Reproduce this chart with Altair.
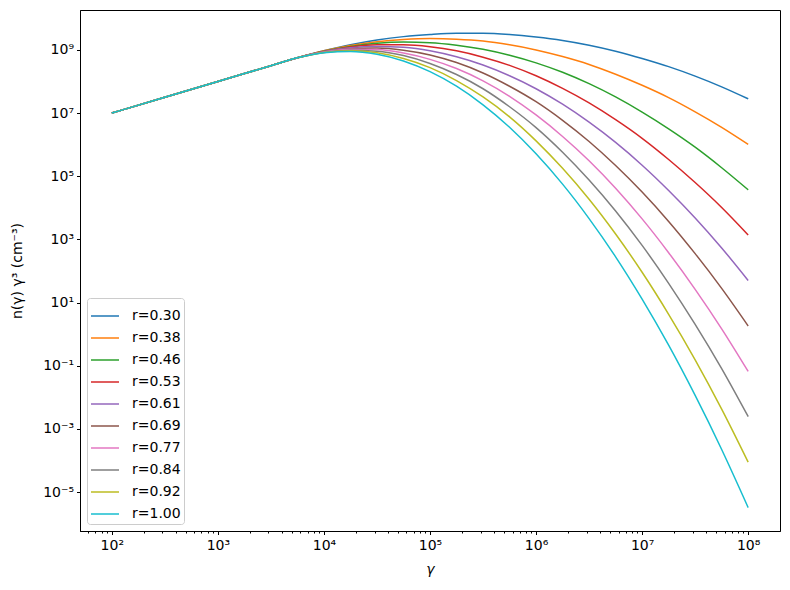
import altair as alt
import pandas as pd

# log10(gamma) sample positions
gamma_exp = [2.0, 2.5, 3.0, 3.5, 3.75, 4.0, 4.25, 4.5, 4.75, 5.0, 5.25, 5.5,
             5.75, 6.0, 6.25, 6.5, 6.75, 7.0, 7.25, 7.5, 7.75, 8.0]

# log10( n(gamma) * gamma^3 ), one list per curve
r030 = [7.0, 7.5, 8.0, 8.5, 8.75, 8.97, 9.16, 9.31, 9.42, 9.49, 9.53, 9.53, 9.49, 9.41, 9.30, 9.15, 8.96, 8.73, 8.47, 8.17, 7.83, 7.45]
r038 = [7.0, 7.5, 8.0, 8.5, 8.75, 8.97, 9.14, 9.26, 9.33, 9.36, 9.34, 9.28, 9.16, 9.00, 8.79, 8.54, 8.23, 7.88, 7.49, 7.04, 6.55, 6.01]
r046 = [7.0, 7.5, 8.0, 8.5, 8.75, 8.96, 9.11, 9.21, 9.25, 9.23, 9.15, 9.02, 8.83, 8.59, 8.29, 7.93, 7.51, 7.03, 6.50, 5.92, 5.27, 4.57]
r053 = [7.0, 7.5, 8.0, 8.5, 8.75, 8.95, 9.09, 9.16, 9.16, 9.10, 8.97, 8.77, 8.51, 8.18, 7.78, 7.32, 6.79, 6.20, 5.53, 4.80, 4.01, 3.14]
r061 = [7.0, 7.5, 8.0, 8.5, 8.75, 8.95, 9.07, 9.11, 9.08, 8.97, 8.78, 8.52, 8.18, 7.77, 7.28, 6.71, 6.07, 5.35, 4.55, 3.68, 2.73, 1.70]
r069 = [7.0, 7.5, 8.0, 8.5, 8.75, 8.94, 9.04, 9.06, 8.99, 8.84, 8.60, 8.27, 7.85, 7.36, 6.77, 6.10, 5.34, 4.50, 3.57, 2.55, 1.45, 0.26]
r077 = [7.0, 7.5, 8.0, 8.5, 8.75, 8.93, 9.02, 9.01, 8.90, 8.70, 8.41, 8.02, 7.53, 6.94, 6.26, 5.49, 4.62, 3.65, 2.58, 1.42, 0.17, -1.18]
r084 = [7.0, 7.5, 8.0, 8.5, 8.75, 8.92, 8.99, 8.96, 8.82, 8.57, 8.22, 7.77, 7.20, 6.54, 5.76, 4.88, 3.90, 2.81, 1.61, 0.31, -1.09, -2.61]
r092 = [7.0, 7.5, 8.0, 8.5, 8.75, 8.92, 8.97, 8.91, 8.73, 8.44, 8.03, 7.51, 6.88, 6.12, 5.25, 4.27, 3.17, 1.96, 0.63, -0.81, -2.37, -4.05]
r100 = [7.0, 7.5, 8.0, 8.5, 8.75, 8.91, 8.95, 8.86, 8.65, 8.31, 7.85, 7.26, 6.55, 5.71, 4.75, 3.66, 2.45, 1.11, -0.35, -1.94, -3.65, -5.49]

labels = ["r=0.30", "r=0.38", "r=0.46", "r=0.53", "r=0.61",
          "r=0.69", "r=0.77", "r=0.84", "r=0.92", "r=1.00"]
colors = ["#1f77b4", "#ff7f0e", "#2ca02c", "#d62728", "#9467bd",
          "#8c564b", "#e377c2", "#7f7f7f", "#bcbd22", "#17becf"]
series = [r030, r038, r046, r053, r061, r069, r077, r084, r092, r100]

x_major = [1e2, 1e3, 1e4, 1e5, 1e6, 1e7, 1e8]
y_major = [1e-5, 1e-3, 1e-1, 1e1, 1e3, 1e5, 1e7, 1e9]
x_minor = [m * 10.0 ** k for k in range(1, 9) for m in range(2, 10)
           if 10 ** 1.7 < m * 10.0 ** k < 10 ** 8.3]

rows = []
for lab, vals in zip(labels, series):
    for e, v in zip(gamma_exp, vals):
        rows.append({"gamma": 10.0 ** e, "n": 10.0 ** v, "r": lab})
df = pd.DataFrame(rows)

sup = "['⁰','¹','²','³','⁴','⁵','⁶','⁷','⁸','⁹']"
ex = "round(log(datum.value)/LN10)"
label_expr = f"'10' + ({ex} < 0 ? '⁻' : '') + {sup}[abs({ex})]"

FONT = "DejaVu Sans"
xscale = alt.Scale(type="log", domain=[10 ** 1.7, 10 ** 8.3], nice=False)
yscale = alt.Scale(type="log", domain=[10 ** -6.231, 10 ** 10.263], nice=False)

lines = alt.Chart(df).mark_line(strokeWidth=1.5, interpolate="monotone").encode(
    x=alt.X("gamma:Q", scale=xscale,
            axis=alt.Axis(values=x_major, labelExpr=label_expr, title="γ",
                          titleFontStyle="italic", orient="bottom",
                          titlePadding=10, labelPadding=4)),
    y=alt.Y("n:Q", scale=yscale,
            axis=alt.Axis(values=y_major, labelExpr=label_expr,
                          title="n(γ) γ³  (cm⁻³)", titlePadding=18)),
    color=alt.Color("r:N", scale=alt.Scale(domain=labels, range=colors),
                    sort=labels,
                    legend=alt.Legend(title=None, orient="bottom-left", offset=7,
                                      symbolType="stroke", symbolSize=784,
                                      symbolStrokeWidth=1.5, labelFontSize=14,
                                      labelFont=FONT, labelOffset=12,
                                      rowPadding=-2, padding=3,
                                      strokeColor="#cccccc",
                                      fillColor="rgba(255,255,255,0.8)",
                                      cornerRadius=3, labelColor="black")),
)

minor = alt.Chart(pd.DataFrame({"g": x_minor})).mark_point(opacity=0).encode(
    x=alt.X("g:Q", scale=xscale,
            axis=alt.Axis(values=x_minor, labels=False, tickSize=2,
                          domain=False, grid=False, title=None, orient="bottom")),
)

chart = alt.layer(lines, minor).resolve_axis(x="independent").properties(
    width=700, height=521,
    autosize=alt.AutoSizeParams(type="none"),
    padding={"left": 80, "top": 10, "right": 10, "bottom": 59},
).configure_view(stroke="black", strokeWidth=1).configure_axis(
    grid=False, domainColor="black", tickColor="black", labelColor="black",
    titleColor="black", labelFont=FONT, titleFont=FONT, labelFontSize=14,
    titleFontSize=14, titleFontWeight="normal", tickSize=3.5, labelPadding=3,
    domainWidth=1, tickWidth=1,
)

chart.save("out.html", embed_options={"renderer": "svg", "actions": False})
